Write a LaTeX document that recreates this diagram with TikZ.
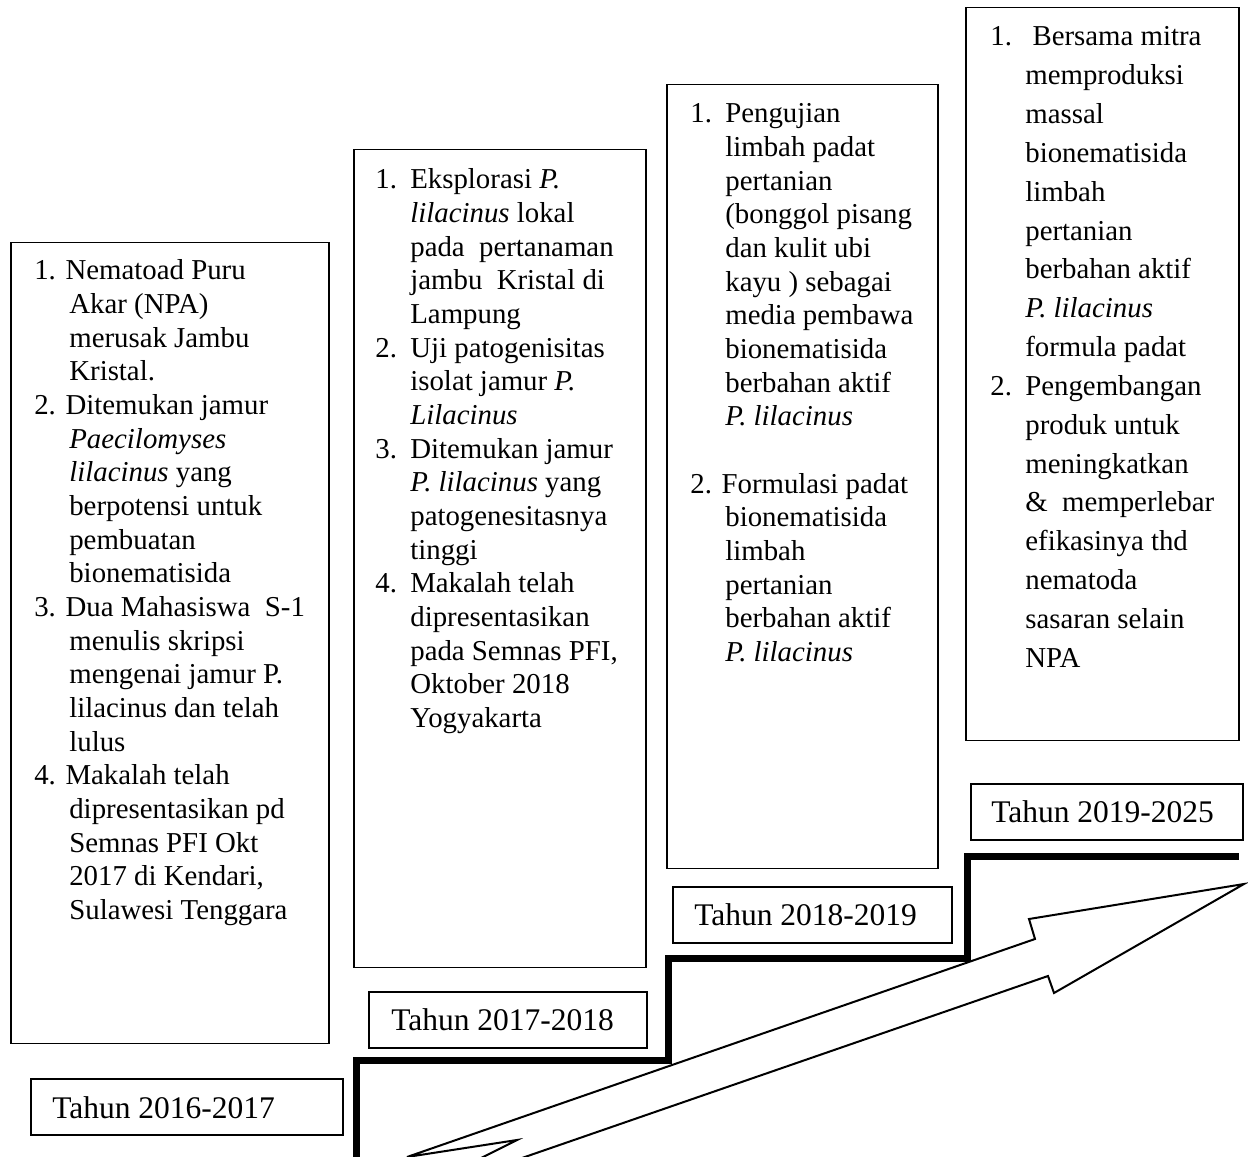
\documentclass[tikz,border=0pt]{standalone}
\usepackage{fontspec}
\setmainfont{Liberation Serif}
\newcommand\nbr[2]{\makebox[#1][l]{#2}}
\newcommand\hng[1]{\hspace*{#1}}
\begin{document}
\begin{tikzpicture}[x=0.6pt,y=-0.6pt,
  frame/.style={draw, line width=0.9pt, inner sep=0pt, anchor=north west},
  txt/.style={anchor=base west, inner sep=0pt, font=\fontsize{17.3}{20.2}\selectfont},
  txtd/.style={anchor=base west, inner sep=0pt, font=\fontsize{17.3}{23.3}\selectfont},
  lbltxt/.style={anchor=base west, inner sep=0pt, font=\fontsize{18.9}{22}\selectfont},
  stair/.style={line width=4.2pt, line join=miter},
  bigarrow/.style={draw, fill=white, line width=1.2pt, line join=miter}]
\useasboundingbox (0,0) rectangle (1248,1157);

% content boxes
\node[frame, minimum width=190.8pt, minimum height=480.6pt] (boxA) at (10,242) {};
\node[frame, minimum width=175.2pt, minimum height=490.8pt] (boxB) at (353,149) {};
\node[frame, minimum width=162.6pt, minimum height=470.4pt] (boxC) at (666,84) {};
\node[frame, minimum width=163.8pt, minimum height=439.8pt] (boxD) at (965,7) {};

% label boxes
\node[frame, minimum width=187.2pt, minimum height=33.6pt] (labA) at (30,1078) {};
\node[frame, minimum width=166.8pt, minimum height=33.6pt] (labB) at (368,991) {};
\node[frame, minimum width=167.4pt, minimum height=33.6pt] (labC) at (672,886) {};
\node[frame, minimum width=163.2pt, minimum height=33.6pt] (labD) at (970,783) {};

\node[lbltxt] (labAt) at (52,1118) {Tahun 2016-2017};
\node[lbltxt] (labBt) at (391,1030) {Tahun 2017-2018};
\node[lbltxt] (labCt) at (694,925) {Tahun 2018-2019};
\node[lbltxt] (labDt) at (991,822) {Tahun 2019-2025};

% box texts
\node[txt] (textA) at (34,280) {\begin{tabular}[t]{@{}l@{}}
1. Nematoad Puru\\
\hng{21pt}Akar (NPA)\\
\hng{21pt}merusak Jambu\\
\hng{21pt}Kristal.\\
2. Ditemukan jamur\\
\hng{21pt}\textit{Paecilomyses}\\
\hng{21pt}\textit{lilacinus} yang\\
\hng{21pt}berpotensi untuk\\
\hng{21pt}pembuatan\\
\hng{21pt}bionematisida\\
3. Dua Mahasiswa\ \ S-1\\
\hng{21pt}menulis skripsi\\
\hng{21pt}mengenai jamur P.\\
\hng{21pt}lilacinus dan telah\\
\hng{21pt}lulus\\
4. Makalah telah\\
\hng{21pt}dipresentasikan pd\\
\hng{21pt}Semnas PFI Okt\\
\hng{21pt}2017 di Kendari,\\
\hng{21pt}Sulawesi Tenggara
\end{tabular}};

\node[txt] (textB) at (375,189) {\begin{tabular}[t]{@{}l@{}}
\nbr{21pt}{1.}Eksplorasi \textit{P.}\\
\hng{21pt}\textit{lilacinus} lokal\\
\hng{21pt}pada\ \ pertanaman\\
\hng{21pt}jambu\ \ Kristal di\\
\hng{21pt}Lampung\\
\nbr{21pt}{2.}Uji patogenisitas\\
\hng{21pt}isolat jamur \textit{P.}\\
\hng{21pt}\textit{Lilacinus}\\
\nbr{21pt}{3.}Ditemukan jamur\\
\hng{21pt}\textit{P. lilacinus} yang\\
\hng{21pt}patogenesitasnya\\
\hng{21pt}tinggi\\
\nbr{21pt}{4.}Makalah telah\\
\hng{21pt}dipresentasikan\\
\hng{21pt}pada Semnas PFI,\\
\hng{21pt}Oktober 2018\\
\hng{21pt}Yogyakarta
\end{tabular}};

\node[txt] (textC) at (690,123) {\begin{tabular}[t]{@{}l@{}}
\nbr{21pt}{1.}Pengujian\\
\hng{21pt}limbah padat\\
\hng{21pt}pertanian\\
\hng{21pt}(bonggol pisang\\
\hng{21pt}dan kulit ubi\\
\hng{21pt}kayu ) sebagai\\
\hng{21pt}media pembawa\\
\hng{21pt}bionematisida\\
\hng{21pt}berbahan aktif\\
\hng{21pt}\textit{P. lilacinus}\\
\mbox{}\\
2. Formulasi padat\\
\hng{21pt}bionematisida\\
\hng{21pt}limbah\\
\hng{21pt}pertanian\\
\hng{21pt}berbahan aktif\\
\hng{21pt}\textit{P. lilacinus}
\end{tabular}};

\node[txtd] (textD) at (990,46) {\begin{tabular}[t]{@{}l@{}}
\nbr{21pt}{1.} Bersama mitra\\
\hng{21pt}memproduksi\\
\hng{21pt}massal\\
\hng{21pt}bionematisida\\
\hng{21pt}limbah\\
\hng{21pt}pertanian\\
\hng{21pt}berbahan aktif\\
\hng{21pt}\textit{P. lilacinus}\\
\hng{21pt}formula padat\\
\nbr{21pt}{2.}Pengembangan\\
\hng{21pt}produk untuk\\
\hng{21pt}meningkatkan\\
\hng{21pt}\&\ \ memperlebar\\
\hng{21pt}efikasinya thd\\
\hng{21pt}nematoda\\
\hng{21pt}sasaran selain\\
\hng{21pt}NPA
\end{tabular}};

% big arrow
\coordinate (a1) at (407,1157);
\coordinate (a2) at (1035,939);
\coordinate (a3) at (1029,919);
\coordinate (a4) at (1244,884);
\coordinate (a5) at (1054,993);
\coordinate (a6) at (1048,976);
\coordinate (a7) at (389,1204);
\coordinate (a8) at (517,1140);
\begin{scope}
\clip (0,0) rectangle (1248,1157);
\path[bigarrow] (a1) -- (a2) -- (a3) -- (a4) -- (a5) -- (a6) -- (a7) -- (a8) -- cycle;
\end{scope}

% staircase
\coordinate (s0) at (356,1162);
\coordinate (s1) at (356,1060);
\coordinate (s2) at (668,1060);
\coordinate (s3) at (668,958);
\coordinate (s4) at (967,958);
\coordinate (s5) at (967,856);
\coordinate (s6) at (1239,856);
\draw[stair] (s0) -- (s1) -- (s2) -- (s3) -- (s4) -- (s5) -- (s6);
\end{tikzpicture}
\end{document}
